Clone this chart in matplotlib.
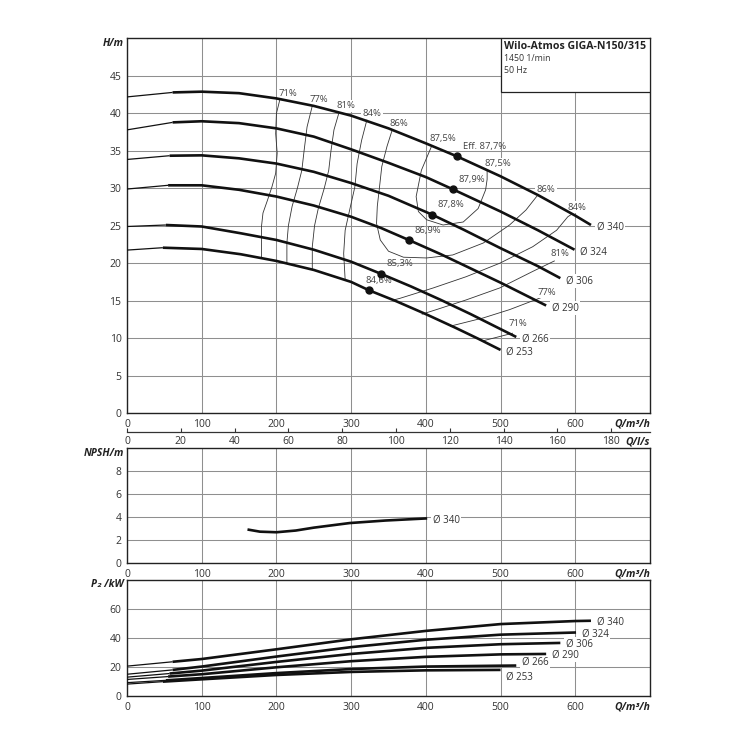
import matplotlib
matplotlib.use("Agg")
import matplotlib.pyplot as plt
from matplotlib.patches import Rectangle

plt.rcParams['font.family'] = ['Open Sans', 'DejaVu Sans']

# ---------------- data ----------------
diam_labels = ['Ø 340', 'Ø 324', 'Ø 306', 'Ø 290', 'Ø 266', 'Ø 253']

# H-Q curves (first point at Q=0 is the thin start segment)
q_340 = [0, 61, 100, 150, 200, 250, 300, 350, 400, 442, 500, 550, 600, 621]
h_340 = [42.2, 42.8, 42.9, 42.7, 42.0, 41.0, 39.7, 38.0, 36.0, 34.25, 31.6, 29.1, 26.35, 25.1]
q_324 = [0, 61, 100, 150, 200, 250, 300, 350, 400, 436.5, 500, 550, 599]
h_324 = [37.8, 38.8, 38.95, 38.7, 38.0, 36.9, 35.2, 33.4, 31.5, 29.85, 26.9, 24.4, 21.8]
q_306 = [0, 57, 100, 150, 200, 250, 300, 350, 408, 450, 500, 550, 580]
h_306 = [33.85, 34.35, 34.4, 34.0, 33.3, 32.2, 30.7, 29.0, 26.5, 24.5, 22.0, 19.6, 18.0]
q_290 = [0, 55, 100, 150, 200, 250, 300, 340, 377.8, 420, 460, 500, 530, 561]
h_290 = [29.9, 30.4, 30.4, 29.8, 28.9, 27.7, 26.2, 24.7, 23.07, 21.2, 19.3, 17.4, 15.9, 14.35]
q_266 = [0, 52, 100, 152, 200, 250, 300, 339.5, 380, 420, 460, 500, 521]
h_266 = [24.9, 25.1, 24.9, 24.0, 23.1, 21.8, 20.2, 18.6, 16.9, 15.1, 13.2, 11.2, 10.15]
q_253 = [0, 48, 100, 152, 200, 250, 300, 323.5, 360, 400, 440, 470, 500]
h_253 = [21.75, 22.07, 21.9, 21.2, 20.3, 19.1, 17.5, 16.4, 14.94, 13.2, 11.36, 9.92, 8.42]

# best efficiency points
bep_q = [442, 436.5, 408, 377.8, 339.5, 323.5]
bep_h = [34.25, 29.85, 26.5, 23.07, 18.6, 16.4]
bep_text = ['Eff. 87,7%', '87,9%', '87,8%', '86,9%', '85,3%', '84,6%']

# iso-efficiency lines
eff71_q = [205, 200, 199, 201, 199, 194, 188, 182, 180, 180, 180]
eff71_h = [42.0, 40.0, 37.3, 34.7, 32.0, 30.2, 28.4, 26.7, 24.9, 22.2, 20.75]
eff77_q = [248, 241, 237, 234, 228, 221, 216, 214, 214]
eff77_h = [41.0, 38.2, 35.0, 32.4, 30.0, 27.6, 25.0, 22.7, 20.0]
eff81_q = [284, 277, 273, 270, 264, 256, 251, 248, 248]
eff81_h = [40.2, 37.8, 35.0, 32.4, 30.0, 27.3, 25.0, 22.2, 19.15]
eff84_q = [321, 314, 308, 305, 298, 292, 290, 292]
eff84_h = [39.1, 36.4, 33.3, 30.2, 27.1, 24.4, 21.3, 17.75]
eff86_q = [355, 348, 341, 338, 335, 334, 339, 350, 370, 401, 436, 477, 512, 534, 549]
eff86_h = [37.8, 35.6, 32.9, 30.2, 27.6, 25.3, 23.1, 21.6, 20.8, 20.7, 21.1, 22.7, 25.1, 27.1, 29.0]
eff875_q = [408, 394, 387, 390, 401, 423, 450, 470, 480, 482, 482]
eff875_h = [35.7, 32.4, 28.9, 26.9, 25.8, 25.1, 25.5, 27.3, 29.8, 31.2, 32.45]
eff84r_q = [357, 365, 410, 454, 499, 543, 575, 590, 596]
eff84r_h = [15.1, 15.3, 16.7, 18.2, 20.0, 22.2, 24.4, 26.2, 26.6]
eff81r_q = [572, 543, 499, 454, 414, 395]
eff81r_h = [20.3, 18.9, 16.7, 15.1, 13.8, 13.2]
eff77r_q = [554, 512, 477, 441, 433]
eff77r_h = [15.4, 13.8, 12.7, 11.8, 11.6]
eff71r_q = [516, 477]
eff71r_h = [10.65, 9.65]

eff_text = ['71%', '77%', '81%', '84%', '86%', '87,5%', '87,5%', '86%', '84%', '81%', '77%', '71%']

# NPSH curve
npsh_q = [163, 178, 200, 226, 250, 298, 346, 400]
npsh_v = [2.92, 2.75, 2.7, 2.85, 3.1, 3.5, 3.72, 3.9]

# Power curves (first point thin segment)
pq_340 = [0, 61, 100, 200, 300, 400, 500, 600, 621]
p_340 = [20.6, 23.6, 25.5, 32.2, 39.1, 44.9, 49.6, 51.7, 51.9]
pq_324 = [0, 61, 100, 200, 300, 400, 500, 601]
p_324 = [15.0, 18.0, 20.3, 27.2, 33.7, 38.8, 42.3, 43.8]
pq_306 = [0, 57, 100, 200, 300, 400, 500, 580]
p_306 = [13.0, 15.5, 17.5, 23.5, 29.0, 33.2, 35.7, 36.6]
pq_290 = [0, 55, 100, 200, 300, 400, 500, 561]
p_290 = [11.4, 13.4, 15.0, 19.8, 24.0, 27.0, 28.7, 29.0]
pq_266 = [0, 52, 100, 200, 300, 400, 500, 521]
p_266 = [9.2, 10.8, 12.4, 15.8, 18.6, 20.3, 20.9, 21.0]
pq_253 = [0, 48, 100, 200, 300, 400, 500]
p_253 = [8.2, 9.9, 11.5, 14.5, 16.6, 17.7, 18.0]

title = 'Wilo-Atmos GIGA-N150/315'
subtitle1 = '1450 1/min'
subtitle2 = '50 Hz'

# ---------------- drawing ----------------
fig = plt.figure(figsize=(7.5, 7.5), dpi=100)
L = 127 / 750
W = 523 / 750
axH = fig.add_axes([L, 1 - 413 / 750, W, (413 - 38.5) / 750])
axL = fig.add_axes([L, 1 - 432 / 750, W, 0.0001])
axN = fig.add_axes([L, 1 - 563.3 / 750, W, 115 / 750])
axP = fig.add_axes([L, 1 - 696 / 750, W, 116 / 750])

TC = '#333333'
GRID = '#8f8f8f'
LC = '#111111'


def style(ax, ylim, yticks):
    ax.set_xlim(0, 700)
    ax.set_ylim(*ylim)
    ax.set_xticks(range(0, 601, 100))
    ax.set_yticks(yticks)
    ax.grid(True, color=GRID, lw=0.75)
    ax.set_axisbelow(True)
    ax.tick_params(length=0, labelsize=7.5, labelcolor=TC, pad=4)
    for s in ax.spines.values():
        s.set_linewidth(1.0)
        s.set_color('#222222')


style(axH, (0, 50), range(0, 46, 5))
style(axN, (0, 10), range(0, 9, 2))
style(axP, (0, 80), range(0, 61, 20))

lab_kw = dict(fontsize=7.5, fontweight='bold', style='italic', color='#222222')
for ax in (axH, axN, axP):
    ax.annotate('Q/m³/h', xy=(1, 0), xycoords='axes fraction', xytext=(0, -4),
                textcoords='offset points', ha='right', va='top', **lab_kw)
axH.annotate('H/m', xy=(0, 1), xycoords='axes fraction', xytext=(-2, -3.5),
             textcoords='offset points', ha='right', va='center', **lab_kw)
axN.annotate('NPSH/m', xy=(0, 1), xycoords='axes fraction', xytext=(-2, -3.5),
             textcoords='offset points', ha='right', va='center', **lab_kw)
axP.annotate('P₂ /kW', xy=(0, 1), xycoords='axes fraction', xytext=(-2, -3.5),
             textcoords='offset points', ha='right', va='center', **lab_kw)

# l/s secondary axis
axL.set_xlim(0, 700 / 3.6)
axL.set_xticks(range(0, 181, 20))
axL.set_yticks([])
axL.patch.set_visible(False)
for s in ('top', 'left', 'right'):
    axL.spines[s].set_visible(False)
axL.spines['bottom'].set_linewidth(0.9)
axL.spines['bottom'].set_color('#333333')
axL.tick_params(axis='x', direction='in', length=3, width=0.8, color='#333333',
                labelsize=7.5, labelcolor=TC, pad=3)
axL.annotate('Q/l/s', xy=(1, 0), xycoords='axes fraction', xytext=(0, -3),
             textcoords='offset points', ha='right', va='top', **lab_kw)

# --- H curves
h_curves = [(q_340, h_340), (q_324, h_324), (q_306, h_306),
            (q_290, h_290), (q_266, h_266), (q_253, h_253)]
box = dict(boxstyle='square,pad=0.15', fc='white', ec='none')
for (q, h), lab in zip(h_curves, diam_labels):
    axH.plot(q[:2], h[:2], color=LC, lw=0.9, zorder=3, solid_capstyle='butt')
    axH.plot(q[1:], h[1:], color=LC, lw=1.9, zorder=3, solid_capstyle='butt',
             solid_joinstyle='round')
    axH.annotate(lab, xy=(q[-1], h[-1]), xytext=(4, -2), textcoords='offset points',
                 ha='left', va='center', fontsize=7, color=TC, bbox=box, zorder=2.5)

iso = [(eff71_q, eff71_h), (eff77_q, eff77_h), (eff81_q, eff81_h), (eff84_q, eff84_h),
       (eff86_q, eff86_h), (eff875_q, eff875_h), (eff84r_q, eff84r_h),
       (eff81r_q, eff81r_h), (eff77r_q, eff77r_h), (eff71r_q, eff71r_h)]
for q, h in iso:
    axH.plot(q, h, color='#333333', lw=0.6, zorder=2)

eff_pos = [(203, 42.7), (244, 41.8), (281, 41.0), (315.6, 40.0), (351, 38.7),
           (404.5, 36.6), (479, 33.3), (548, 29.8), (590, 27.5), (566.6, 21.25),
           (548.8, 16.1), (511, 11.9)]
for t, (x, y) in zip(eff_text, eff_pos):
    axH.text(x, y, t, ha='left', va='center', fontsize=6.8, color='#444444',
             bbox=box, zorder=2.5)

axH.plot(bep_q, bep_h, 'o', color=LC, ms=5, zorder=4)
bep_off = [(4, 7), (4, 7), (4, 7), (4, 7), (4, 7), (-2, 7)]
for x, y, t, off in zip(bep_q, bep_h, bep_text, bep_off):
    axH.annotate(t, xy=(x, y), xytext=off, textcoords='offset points',
                 ha='left', va='center', fontsize=6.8, color='#444444', zorder=2.5)

# title box
axH.add_patch(Rectangle((500, 42.85), 200, 7.15, fc='white', ec='#222222', lw=0.9, zorder=5))
axH.text(0.7208, 0.979, title, transform=axH.transAxes, ha='left', va='center',
         fontsize=7.6, fontweight='bold', color='#222222', zorder=6)
axH.text(0.7208, 0.9453, subtitle1, transform=axH.transAxes, ha='left', va='center',
         fontsize=6.3, color='#333333', zorder=6)
axH.text(0.7208, 0.9135, subtitle2, transform=axH.transAxes, ha='left', va='center',
         fontsize=6.3, color='#333333', zorder=6)

# --- NPSH
axN.plot(npsh_q, npsh_v, color=LC, lw=1.9, zorder=3, solid_joinstyle='round')
axN.annotate(diam_labels[0], xy=(npsh_q[-1], npsh_v[-1]), xytext=(5, -1),
             textcoords='offset points', ha='left', va='center', fontsize=7,
             color=TC, bbox=box, zorder=2.5)

# --- Power
p_curves = [(pq_340, p_340), (pq_324, p_324), (pq_306, p_306),
            (pq_290, p_290), (pq_266, p_266), (pq_253, p_253)]
p_off = [(4, -1), (4, -1), (4, -1), (4, -1), (4, 2.5), (4, -5)]
for (q, p), lab, off in zip(p_curves, diam_labels, p_off):
    axP.plot(q[:2], p[:2], color=LC, lw=0.9, zorder=3, solid_capstyle='butt')
    axP.plot(q[1:], p[1:], color=LC, lw=1.9, zorder=3, solid_capstyle='butt',
             solid_joinstyle='round')
    axP.annotate(lab, xy=(q[-1], p[-1]), xytext=off, textcoords='offset points',
                 ha='left', va='center', fontsize=7, color=TC, bbox=box, zorder=2.5)

fig.savefig('out.png', dpi=100, facecolor='white')
